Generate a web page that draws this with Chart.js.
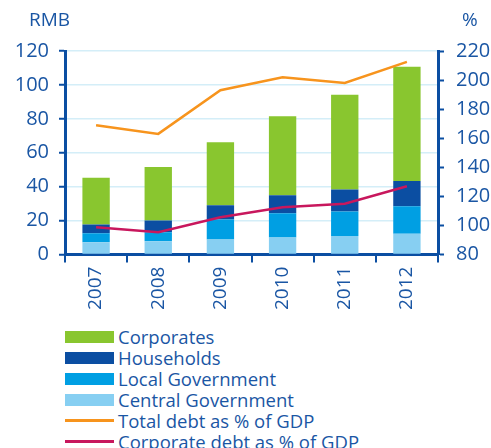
<!DOCTYPE html>
<html>
<head>
<meta charset="utf-8">
<script src="https://cdn.jsdelivr.net/npm/chart.js@4"></script>
<style>
  html, body { margin: 0; padding: 0; background: #fff; }
  #wrap { position: relative; width: 491px; height: 448px; }
  #box { position: absolute; left: 0; top: 0; width: 491px; height: 314px; }
  #legend { position: absolute; left: 65px; top: 326px; font-family: 'Open Sans', sans-serif; font-size: 18.5px; color: #1A56A4; }
  .row { height: 21px; display: flex; align-items: center; }
  .sw { width: 49px; margin-right: 4px; }
</style>
</head>
<body>
<div id="wrap">
  <div id="box"><canvas id="debtChart"></canvas></div>
  <div id="legend"></div>
</div>
<script>
// Data
const years = ["2007", "2008", "2009", "2010", "2011", "2012"];
const centralGov = [7.3, 7.9, 8.9, 10.0, 11.0, 12.2];
const localGov = [5.3, 5.3, 11.8, 14.4, 14.4, 16.3];
const households = [5.1, 6.9, 8.3, 10.6, 13.0, 14.8];
const corporates = [27.6, 31.5, 37.2, 46.6, 55.8, 67.4];
const totalDebtPct = [169, 163, 193, 202, 198, 212.5];
const corpDebtPct = [98.8, 95.4, 105.7, 112.6, 115, 127];
const leftTicks = [0, 20, 40, 60, 80, 100, 120];
const rightTicks = [80, 100, 120, 140, 160, 180, 200, 220];

const textBlue = "#1A56A4";
const axisBlue = "#0B4EA2";
const gridCyan = "#D4EEF8";

Chart.defaults.font.family = "'Open Sans', sans-serif";
Chart.defaults.color = textBlue;

// unit labels above the axes
const unitLabels = {
  id: "unitLabels",
  afterDraw(chart) {
    const c = chart.ctx;
    c.save();
    c.font = "19px 'Open Sans', sans-serif";
    c.fillStyle = textBlue;
    c.textBaseline = "middle";
    c.textAlign = "left";
    c.fillText("RMB", 29, 21);
    c.fillText("%", 462, 21);
    c.restore();
  }
};

const ctx = document.getElementById("debtChart").getContext("2d");
const chart = new Chart(ctx, {
  type: "bar",
  data: {
    labels: years,
    datasets: [
      { type: "line", label: "Total debt as % of GDP", data: totalDebtPct, yAxisID: "y2",
        borderColor: "#F7941D", borderWidth: 2.5, pointRadius: 0, tension: 0, order: 0 },
      { type: "line", label: "Corporate debt as % of GDP", data: corpDebtPct, yAxisID: "y2",
        borderColor: "#C8175D", borderWidth: 2.5, pointRadius: 0, tension: 0, order: 0 },
      { label: "Central Government", data: centralGov, backgroundColor: "#87CFF2", order: 1 },
      { label: "Local Government", data: localGov, backgroundColor: "#009FE3", order: 1 },
      { label: "Households", data: households, backgroundColor: "#0B4EA2", order: 1 },
      { label: "Corporates", data: corporates, backgroundColor: "#89C62F", order: 1 }
    ]
  },
  options: {
    responsive: true,
    maintainAspectRatio: false,
    animation: false,
    layout: { padding: { top: 51, left: 8, right: 0, bottom: 0 } },
    datasets: { bar: { categoryPercentage: 1, barPercentage: 0.44 } },
    plugins: { legend: { display: false }, tooltip: { enabled: false } },
    scales: {
      x: {
        stacked: true,
        grid: { offset: true, drawOnChartArea: false, color: axisBlue, lineWidth: 2, tickLength: 8 },
        border: { color: axisBlue, width: 3 },
        ticks: { minRotation: 90, maxRotation: 90, font: { size: 19 }, padding: 4 }
      },
      y: {
        stacked: true, position: "left", min: 0, max: 120,
        afterBuildTicks: s => { s.ticks = leftTicks.map(v => ({ value: v })); },
        afterFit: s => { s.width = 57; },
        grid: { color: gridCyan, lineWidth: 1.5, tickColor: axisBlue, tickLength: 6, tickWidth: 2 },
        border: { color: axisBlue, width: 3 },
        ticks: { font: { size: 20 }, padding: 10 }
      },
      y2: {
        position: "right", min: 80, max: 220,
        afterBuildTicks: s => { s.ticks = rightTicks.map(v => ({ value: v })); },
        afterFit: s => { s.width = 53; },
        grid: { drawOnChartArea: false, color: axisBlue, tickLength: 6, tickWidth: 2 },
        border: { color: axisBlue, width: 3 },
        ticks: { font: { size: 20 }, padding: 12 }
      }
    }
  },
  plugins: [unitLabels]
});

// legend in a single column, corporates first
const legendOrder = ["Corporates", "Households", "Local Government", "Central Government",
  "Total debt as % of GDP", "Corporate debt as % of GDP"];
const legend = document.getElementById("legend");
legendOrder.forEach(name => {
  const ds = chart.data.datasets.find(d => d.label === name);
  const row = document.createElement("div");
  row.className = "row";
  const sw = document.createElement("div");
  sw.className = "sw";
  if (ds.type === "line") {
    sw.style.height = "3px";
    sw.style.background = ds.borderColor;
  } else {
    sw.style.height = "12px";
    sw.style.background = ds.backgroundColor;
  }
  const txt = document.createElement("span");
  txt.textContent = name;
  row.appendChild(sw);
  row.appendChild(txt);
  legend.appendChild(row);
});
</script>
</body>
</html>
